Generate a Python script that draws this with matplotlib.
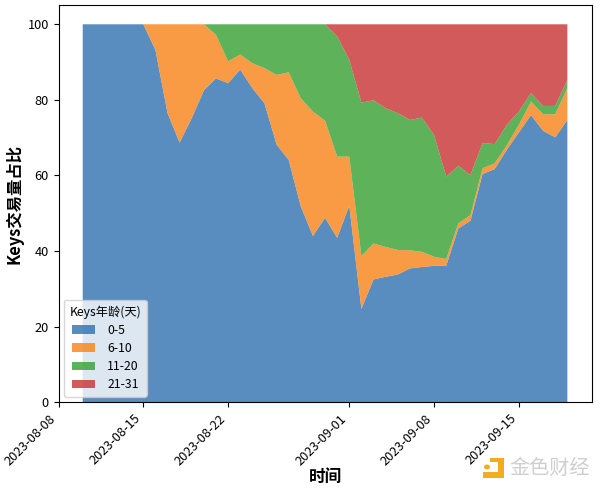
import matplotlib

matplotlib.use("Agg")
import matplotlib.pyplot as plt
import matplotlib.dates as mdates
from matplotlib.patches import Circle, Rectangle
import pandas as pd

plt.rcParams["font.family"] = ["Noto Sans CJK SC", "DejaVu Sans"]

START_DATE = "2023-08-10"
END_DATE = "2023-09-19"
TICK_DATES = ["2023-08-08", "2023-08-15", "2023-08-22", "2023-09-01",
              "2023-09-08", "2023-09-15"]
LABELS = ["0-5", "6-10", "11-20", "21-31"]

age_0_5 = [100, 100, 100, 100, 100, 100, 93.2, 76.5, 68.7, 75.2, 82.5, 85.7, 84.4, 88,
           83.1, 79.1, 68.2, 64.1, 51.8, 44, 48.8, 43.5, 52, 24.7, 32.5, 33.2, 33.8,
           35.4, 35.8, 36.1, 36.1, 46, 48, 60.4, 61.7, 66.8, 71.4, 76, 71.8, 70.1, 74.7]
age_6_10 = [0, 0, 0, 0, 0, 0, 6.8, 23.5, 31.3, 24.8, 17.5, 11.5, 5.8, 4, 6.6, 9.3, 18.4,
            23.2, 28.6, 32.9, 25.7, 21.5, 13, 14, 9.5, 7.9, 6.5, 4.8, 4, 2.4, 1.8, 1.3,
            1.5, 1.5, 1.5, 1.2, 2, 3.6, 4.4, 6.1, 8.4]
age_11_20 = [0, 0, 0, 0, 0, 0, 0, 0, 0, 0, 0, 2.8, 9.8, 8, 10.3, 11.6, 13.4, 12.7, 19.6,
             23.1, 25.5, 31.8, 25.6, 40.6, 37.9, 36.7, 36.2, 34.5, 35.5, 32.2, 21.8,
             15.3, 10.6, 6.7, 5.1, 5.4, 3.5, 2.2, 2.2, 2.2, 2.2]
age_21_31 = [0, 0, 0, 0, 0, 0, 0, 0, 0, 0, 0, 0, 0, 0, 0, 0, 0, 0, 0, 0, 0, 3.2, 9.4,
             20.7, 20.1, 22.2, 23.5, 25.3, 24.7, 29.3, 40.3, 37.4, 39.9, 31.4, 31.7,
             26.6, 23.1, 18.2, 21.6, 21.6, 14.7]

dates = pd.date_range(START_DATE, END_DATE, freq="D")
ticks = pd.to_datetime(TICK_DATES)

fig, ax = plt.subplots(figsize=(6.0, 4.9), dpi=100)
fig.subplots_adjust(left=0.0975, right=0.986, top=0.989, bottom=0.179)

ax.stackplot(dates, age_0_5, age_6_10, age_11_20, age_21_31, labels=LABELS,
             colors=["#2f6fb0", "#f88216", "#36a031", "#c93131"], alpha=0.8)

ax.set_xlim(pd.Timestamp("2023-08-08"), pd.Timestamp("2023-09-21"))
ax.set_ylim(0, 105)
ax.set_xticks(ticks)
ax.xaxis.set_major_formatter(mdates.DateFormatter("%Y-%m-%d"))
ax.tick_params(labelsize=9.2)
plt.setp(ax.get_xticklabels(), rotation=45, ha="right")

ax.set_xlabel("时间", fontsize=12, fontweight="bold", labelpad=0)
ax.set_ylabel("Keys交易量占比", fontsize=11.8, fontweight="bold", labelpad=3)
ax.legend(title="Keys年龄(天)", loc="lower left", fontsize=8.8, title_fontsize=8.8,
          labelspacing=0.42, handlelength=1.9, handletextpad=1.0, borderpad=0.45,
          borderaxespad=0.45)


def px_rect(x0, y0, x1, y1):
    # 水印用像素坐标 (左上角为原点)
    fig.add_artist(Rectangle((x0 / 600, 1 - y1 / 490), (x1 - x0) / 600, (y1 - y0) / 490,
                             transform=fig.transFigure, facecolor="#f2ac1d",
                             edgecolor="none"))


# 金色财经 水印
px_rect(483, 472, 504, 478)
px_rect(498, 458, 504, 478)
px_rect(490, 458, 498, 462)
fig.add_artist(Circle((487 / 600, 1 - 467 / 490), 0.005, transform=fig.transFigure,
                      facecolor="#f2ac1d", edgecolor="none"))
fig.text(550 / 600, 0.043, "金色财经", fontsize=14.5, color="#cfcfcf", ha="center",
         va="center")

fig.savefig("out.png", dpi=100)
